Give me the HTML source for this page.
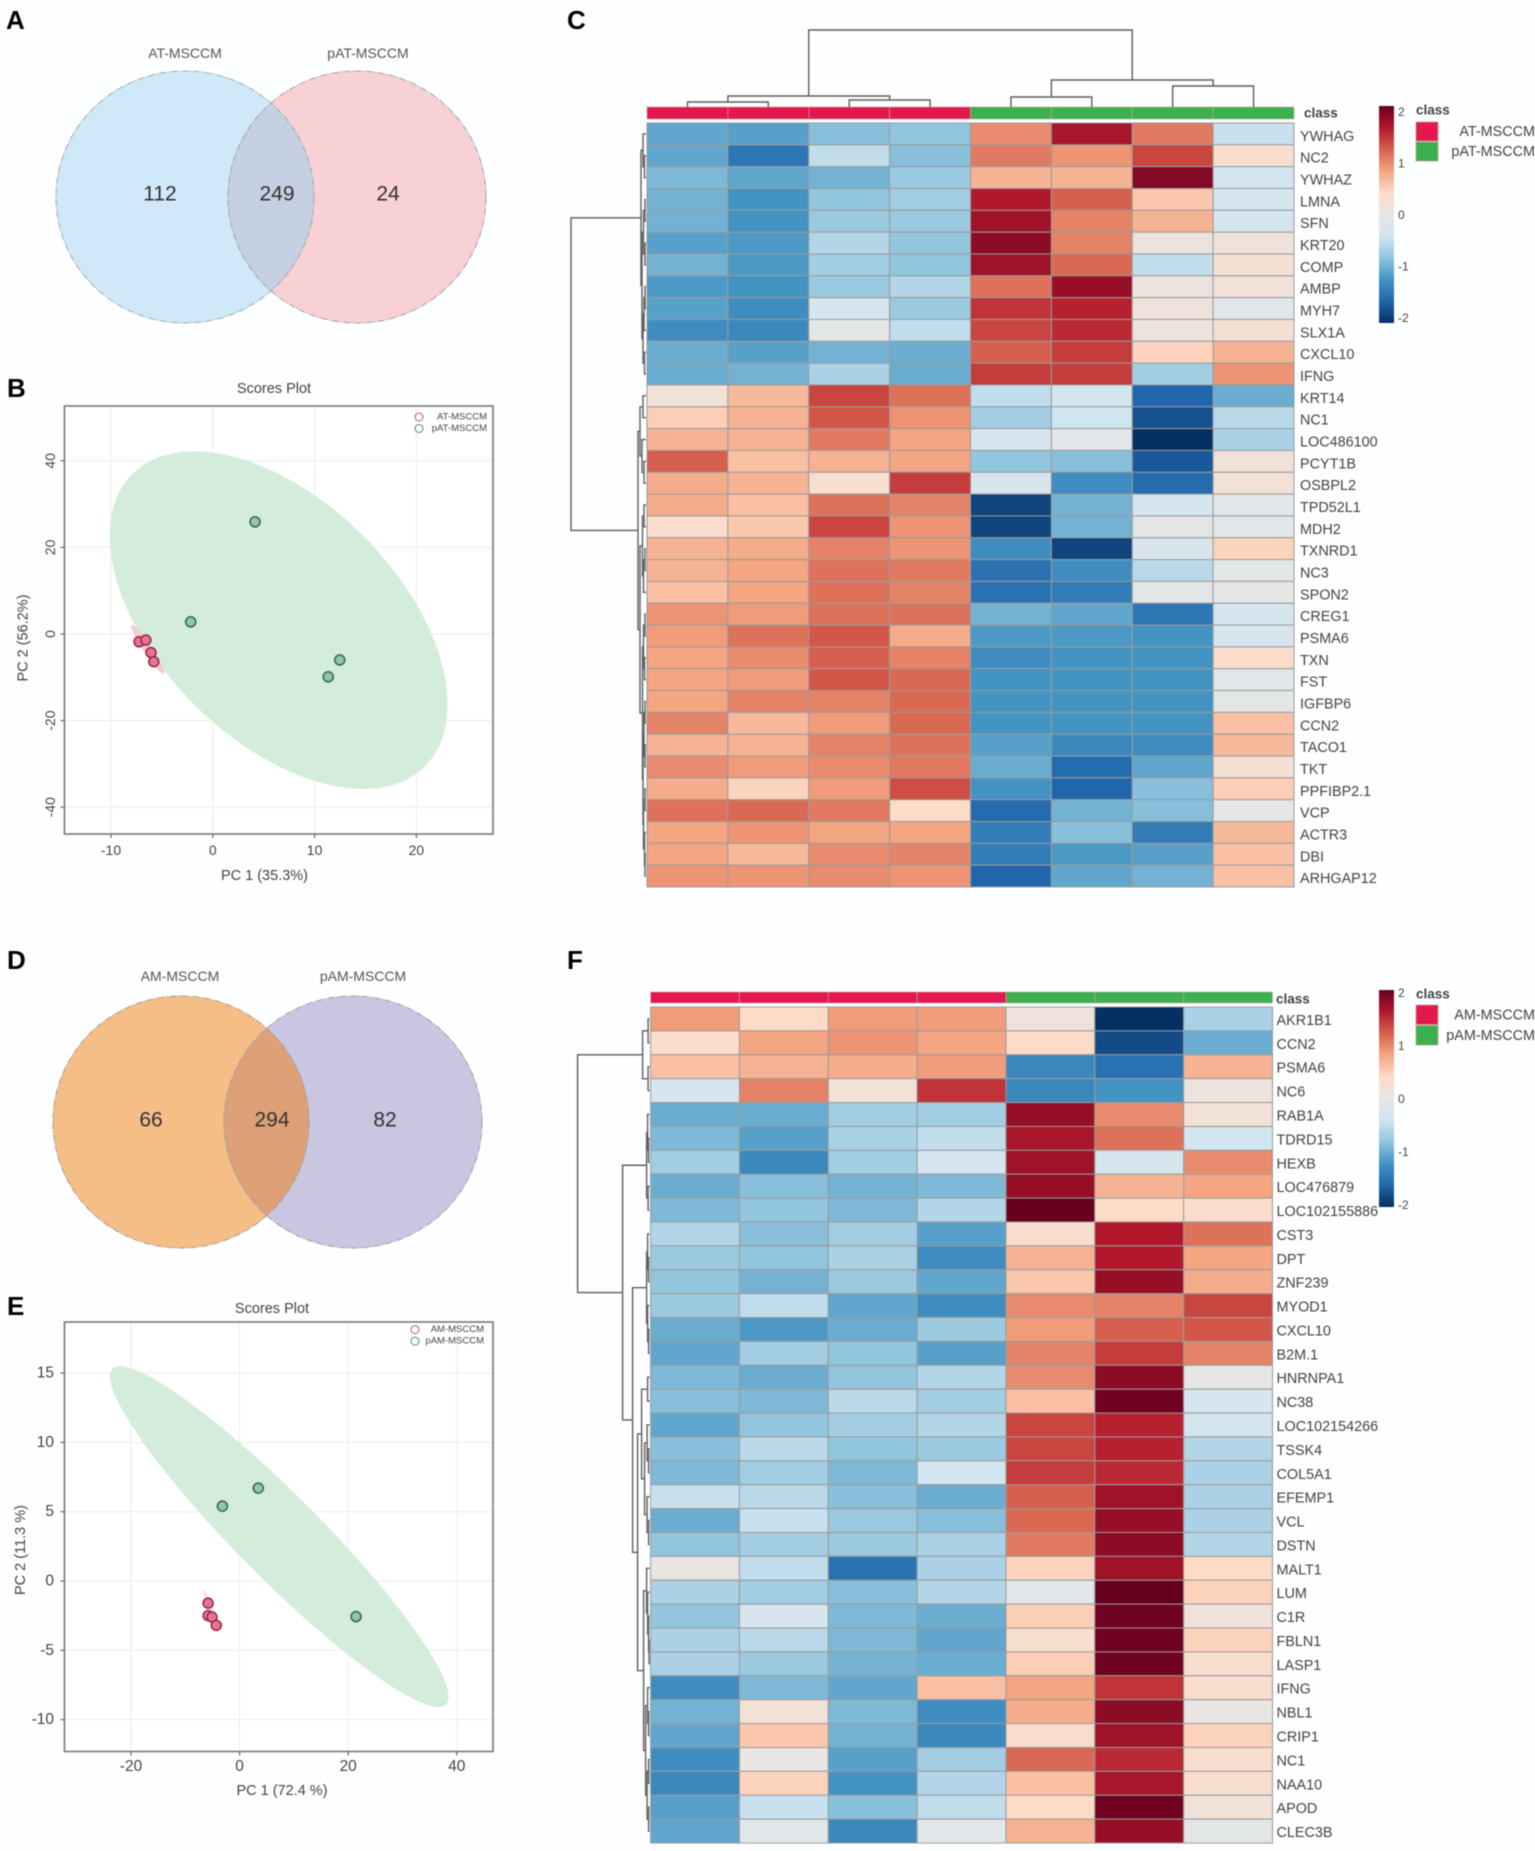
<!DOCTYPE html>
<html lang="en">
<head>
<meta charset="utf-8">
<title>Proteomic comparison of MSC conditioned media</title>
<style>
html,body{margin:0;padding:0;background:#fcfeff;}
#figure{display:block;width:1535px;height:1851px;filter:blur(0.6px);font-family:"Liberation Sans",sans-serif;}
text{font-family:"Liberation Sans",sans-serif;fill:#444;dominant-baseline:central;}
.panel{font-size:26px;font-weight:bold;fill:#000;}
.vn{font-size:21px;fill:#333;text-anchor:middle;}
.vt{font-size:14px;fill:#555;text-anchor:middle;}
</style>
</head>
<body>
<svg id="figure" xmlns="http://www.w3.org/2000/svg" width="1535" height="1851" viewBox="0 0 1535 1851">
<defs>
<clipPath id="clip-a"><ellipse cx="185" cy="197" rx="129" ry="126"/></clipPath>
<clipPath id="clip-d"><ellipse cx="181" cy="1122" rx="128" ry="126"/></clipPath>
</defs>
<rect width="1535" height="1851" fill="#fcfeff"/>
<text class="panel" x="6" y="20">A</text>
<text class="panel" x="7" y="388">B</text>
<text class="panel" x="567" y="20">C</text>
<text class="panel" x="7" y="960">D</text>
<text class="panel" x="7" y="1306">E</text>
<text class="panel" x="567" y="960">F</text>

<g>
<text class="vt" x="185" y="53">AT-MSCCM</text>
<text class="vt" x="368" y="53">pAT-MSCCM</text>
<ellipse cx="185" cy="197" rx="129" ry="126" fill="#cfe9f8"/>
<ellipse cx="357" cy="197" rx="129" ry="126" fill="#f8d1d4"/>
<ellipse cx="357" cy="197" rx="129" ry="126" fill="#c5d1e2" clip-path="url(#clip-a)"/>
<ellipse cx="185" cy="197" rx="129" ry="126" fill="none" stroke="#a0a8ad" stroke-width="1" stroke-dasharray="7 1.5 1.5 1.5"/>
<ellipse cx="357" cy="197" rx="129" ry="126" fill="none" stroke="#a0a0a4" stroke-width="1" stroke-dasharray="7 1.5 1.5 1.5"/>
<text class="vn" x="160" y="194">112</text>
<text class="vn" x="277" y="194">249</text>
<text class="vn" x="388" y="194">24</text>
</g>

<g>
<text class="vt" x="180" y="976">AM-MSCCM</text>
<text class="vt" x="363" y="976">pAM-MSCCM</text>
<ellipse cx="181" cy="1122" rx="128" ry="126" fill="#f5be87"/>
<ellipse cx="353" cy="1122" rx="129" ry="126" fill="#c9c6e2"/>
<ellipse cx="353" cy="1122" rx="129" ry="126" fill="#dda077" clip-path="url(#clip-d)"/>
<ellipse cx="181" cy="1122" rx="128" ry="126" fill="none" stroke="#a89b8e" stroke-width="1" stroke-dasharray="7 1.5 1.5 1.5"/>
<ellipse cx="353" cy="1122" rx="129" ry="126" fill="none" stroke="#a0a0a4" stroke-width="1" stroke-dasharray="7 1.5 1.5 1.5"/>
<text class="vn" x="151" y="1120">66</text>
<text class="vn" x="272" y="1120">294</text>
<text class="vn" x="385" y="1120">82</text>
</g>
</svg>

<script>
/* ---------- Scatter data: panel B ---------- */
const bGroups = ['AT-MSCCM', 'pAT-MSCCM'];
const bRedPc1 = [-7.25, -6.57, -6.07, -5.8];
const bRedPc2 = [-1.8, -1.4, -4.3, -6.4];
const bGreenPc1 = [4.15, -2.17, 12.47, 11.34];
const bGreenPc2 = [25.9, 2.8, -6, -9.9];
const bRedEllipse = [-6.4, -3.5, 1.62, 5.66, -0.95];
const bGreenEllipse = [6.47, 3.2, 16.6, 39, -0.5];
const bXTicks = [-10, 0, 10, 20];
const bYTicks = [40, 20, 0, -20, -40];

/* ---------- Scatter data: panel E ---------- */
const eGroups = ['AM-MSCCM', 'pAM-MSCCM'];
const eRedPc1 = [-5.8, -5.8, -5.08, -4.3];
const eRedPc2 = [-1.6, -2.5, -2.6, -3.2];
const eGreenPc1 = [3.44, -3.17, 21.45];
const eGreenPc2 = [6.7, 5.4, -2.57];
const eRedEllipse = [-5.2, -2.1, 1.5, 1.45, -0.9];
const eGreenEllipse = [7.3, 3.2, 31.2, 12.3, -0.94];
const eXTicks = [-20, 0, 20, 40];
const eYTicks = [15, 10, 5, 0, -5, -10];

/* ---------- Heatmap data: panel C ---------- */
const cClasses = ['AT-MSCCM','AT-MSCCM','AT-MSCCM','AT-MSCCM','pAT-MSCCM','pAT-MSCCM','pAT-MSCCM','pAT-MSCCM'];
const cGenes = ['YWHAG','NC2','YWHAZ','LMNA','SFN','KRT20','COMP','AMBP','MYH7','SLX1A','CXCL10','IFNG','KRT14','NC1','LOC486100','PCYT1B','OSBPL2','TPD52L1','MDH2','TXNRD1','NC3','SPON2','CREG1','PSMA6','TXN','FST','IGFBP6','CCN2','TACO1','TKT','PPFIBP2.1','VCP','ACTR3','DBI','ARHGAP12'];
const cValues = [
[-1.05,-1.1,-0.85,-0.8,0.95,1.65,1.05,-0.45],
[-1.05,-1.45,-0.5,-0.85,1.05,0.9,1.35,0.3],
[-0.9,-1.05,-0.95,-0.75,0.7,0.7,1.85,-0.35],
[-0.95,-1.2,-0.8,-0.7,1.6,1.2,0.55,-0.3],
[-0.95,-1.2,-0.75,-0.75,1.7,1.0,0.7,-0.35],
[-1.1,-1.15,-0.6,-0.8,1.8,1.0,0.1,0.15],
[-0.95,-1.15,-0.7,-0.8,1.7,1.15,-0.5,0.25],
[-1.15,-1.2,-0.75,-0.6,1.1,1.75,0.1,0.2],
[-1.1,-1.25,-0.3,-0.75,1.45,1.55,0.15,-0.1],
[-1.25,-1.3,-0.05,-0.5,1.35,1.5,0.1,0.25],
[-1,-1.1,-0.95,-1,1.2,1.4,0.45,0.7],
[-1,-0.95,-0.65,-1,1.4,1.4,-0.7,0.9],
[0.2,0.65,1.35,1.1,-0.5,-0.35,-1.6,-1],
[0.5,0.7,1.25,0.9,-0.7,-0.4,-1.75,-0.55],
[0.7,0.7,1.05,0.8,-0.3,-0.1,-2,-0.65],
[1.2,0.6,0.7,0.8,-0.8,-0.85,-1.7,0.2],
[0.75,0.7,0.3,1.4,-0.25,-1.25,-1.55,0.2],
[0.75,0.6,1.1,1,-1.85,-0.95,-0.3,-0.1],
[0.35,0.55,1.35,0.9,-1.85,-0.95,-0.05,-0.1],
[0.7,0.75,1,0.9,-1.25,-1.85,-0.25,0.45],
[0.7,0.8,1.1,1.05,-1.5,-1.25,-0.55,-0.05],
[0.6,0.8,1.1,1,-1.5,-1.4,-0.05,0],
[0.9,0.85,1.1,1.1,-0.95,-1.05,-1.45,-0.3],
[0.85,1.1,1.25,0.75,-1.15,-1.15,-1.2,-0.3],
[0.8,0.95,1.2,1,-1.25,-1.2,-1.2,0.35],
[0.8,0.85,1.25,1.15,-1.2,-1.2,-1.2,-0.1],
[0.8,1,1,1.15,-1.2,-1.2,-1.2,-0.05],
[1,0.65,0.85,1.15,-1.2,-1.2,-1.2,0.6],
[0.7,0.7,1,1.1,-1.1,-1.3,-1.25,0.65],
[0.95,0.85,0.95,1.05,-1.0,-1.55,-1.05,0.25],
[0.75,0.45,0.85,1.3,-1.2,-1.6,-0.85,0.5],
[1.1,1.15,1.05,0.4,-1.55,-0.95,-0.85,0],
[0.8,0.9,0.8,0.8,-1.4,-0.85,-1.4,0.65],
[0.8,0.65,0.95,1,-1.4,-1.15,-1.1,0.6],
[0.9,0.9,0.95,0.9,-1.6,-1.05,-0.95,0.6]
];
/* dendrograms: [merge height, left, right]; a bare number is a leaf index */
const cColTree = [77,[11,[5,0,1],[7,2,3]],[27,[10,4,5],[21,6,7]]];
const cRowTree = [75,
 [5,[3,0,[1.5,1,2]],[4,[2.5,[1,3,4],[1,5,6]],[3,[2,[1,7,8],9],[1.5,10,11]]]],
 [8,
  [6,[3,12,13],[4,14,[2,15,16]]],
  [6,
   [3.5,[2,17,18],[2.5,[1,19,20],21]],
   [3.5,
    [2.5,[1,22,23],[1.5,24,25]],
    [3,[2,[1,26,27],[1,28,29]],[2.5,[1,30,31],[1.5,32,[1,33,34]]]]
   ]
  ]
 ]
];
const cLegendTicks = [2,1,0,-1,-2];

/* ---------- Heatmap data: panel F ---------- */
const fClasses = ['AM-MSCCM','AM-MSCCM','AM-MSCCM','AM-MSCCM','pAM-MSCCM','pAM-MSCCM','pAM-MSCCM'];
const fGenes = ['AKR1B1','CCN2','PSMA6','NC6','RAB1A','TDRD15','HEXB','LOC476879','LOC102155886','CST3','DPT','ZNF239','MYOD1','CXCL10','B2M.1','HNRNPA1','NC38','LOC102154266','TSSK4','COL5A1','EFEMP1','VCL','DSTN','MALT1','LUM','C1R','FBLN1','LASP1','IFNG','NBL1','CRIP1','NC1','NAA10','APOD','CLEC3B'];
const fValues = [
[0.85,0.4,0.85,0.85,0.15,-2,-0.65],
[0.35,0.8,0.9,0.8,0.4,-1.8,-1],
[0.6,0.7,0.75,0.85,-1.3,-1.5,0.7],
[-0.3,1,0.2,1.45,-1.3,-1.2,0.1],
[-1,-1,-0.7,-0.7,1.75,0.95,0.2],
[-0.9,-1.1,-0.65,-0.5,1.65,1.1,-0.4],
[-0.7,-1.3,-0.7,-0.35,1.7,-0.3,0.95],
[-1,-0.85,-0.95,-0.9,1.75,0.7,0.8],
[-0.9,-0.8,-0.9,-0.6,2,0.4,0.35],
[-0.6,-0.85,-0.7,-1.1,0.3,1.6,1.1],
[-0.75,-0.8,-0.65,-1.25,0.7,1.6,0.8],
[-0.8,-0.95,-0.75,-1.05,0.55,1.75,0.75],
[-0.75,-0.5,-1.05,-1.25,0.95,1,1.35],
[-1,-1.15,-1,-0.75,0.85,1.2,1.25],
[-1.05,-0.7,-0.8,-1.1,1,1.4,1],
[-0.9,-1,-0.8,-0.6,0.95,1.8,0],
[-0.85,-0.9,-0.55,-0.7,0.6,1.95,-0.3],
[-1.05,-0.8,-0.7,-0.6,1.35,1.55,-0.35],
[-0.85,-0.55,-0.8,-0.75,1.35,1.55,-0.6],
[-0.9,-0.7,-0.9,-0.4,1.4,1.5,-0.65],
[-0.45,-0.55,-0.85,-1,1.2,1.7,-0.65],
[-1,-0.45,-0.75,-0.85,1.15,1.75,-0.65],
[-0.8,-0.7,-0.75,-0.65,1.05,1.8,-0.6],
[0.05,-0.5,-1.5,-0.65,0.45,1.7,0.4],
[-0.65,-0.7,-0.85,-0.6,-0.1,2,0.45],
[-0.8,-0.3,-0.9,-1,0.5,1.95,0.15],
[-0.65,-0.55,-0.9,-1.05,0.3,1.95,0.45],
[-0.65,-0.75,-0.95,-1,0.5,1.95,0.3],
[-1.25,-0.9,-1.05,0.6,0.8,1.45,0.3],
[-0.95,0.2,-0.9,-1.25,0.75,1.8,0.05],
[-1.05,0.55,-0.95,-1.3,0.35,1.7,0.45],
[-1.25,0.05,-1.1,-0.7,1.15,1.5,0.3],
[-1.3,0.45,-1.2,-0.6,0.6,1.65,0.3],
[-1.1,-0.45,-0.85,-0.5,0.4,1.95,0.15],
[-1.05,-0.1,-1.3,-0.1,0.7,1.75,-0.05]
];
const fRowTree = [72,
 [7,[1.5,0,1],[1.5,2,3]],
 [27,
  [3,[2,4,[1,5,6]],[1.5,7,8]],
  [17,
   [3,[2,9,[1,10,11]],[2,12,[1,13,14]]],
   [12,
    [8,[2,15,16],[5,[2.5,17,[1,18,19]],[2.5,20,[1,21,22]]]],
    [6,[3,23,[2,24,[1,25,[0.5,26,27]]]],[4,[2,28,[1,29,30]],[2.5,[1,31,32],[1,33,34]]]]
   ]
  ]
 ]
];
const fLegendTicks = [2,1,0,-1,-2];

/* ---------- Shared colour ramp ---------- */
const rampValues = [-2,-1.6,-1.2,-0.8,-0.4,0,0.4,0.8,1.2,1.6,2];
const rampColors = ['#053061','#2166ac','#4393c3','#92c5de','#d1e5f0','#e6e6e6','#fddbc7','#f4a582','#d6604d','#b2182b','#67001f'];

const SVG_NS = 'http://www.w3.org/2000/svg';
const root = document.getElementById('figure');

function make(tag, attrs, parent, txt) {
  const node = document.createElementNS(SVG_NS, tag);
  for (const k in attrs) node.setAttribute(k, attrs[k]);
  if (txt !== undefined) node.textContent = txt;
  (parent || root).appendChild(node);
  return node;
}
function hexToRgb(h) {
  return [parseInt(h.slice(1,3),16), parseInt(h.slice(3,5),16), parseInt(h.slice(5,7),16)];
}
function colorFor(v) {
  const c = Math.max(-2, Math.min(2, v));
  let i = 0;
  while (i < rampValues.length - 2 && c > rampValues[i+1]) i++;
  const t = (c - rampValues[i]) / (rampValues[i+1] - rampValues[i]);
  const a = hexToRgb(rampColors[i]), b = hexToRgb(rampColors[i+1]);
  return 'rgb(' + a.map((x,j) => Math.round(x + (b[j]-x)*t)).join(',') + ')';
}

/* ---------- Dendrogram ---------- */
function drawTree(node, parent, prefix, leafPos, heightPos, vertical) {
  if (typeof node === 'number') return { p: leafPos(node), h: 0 };
  const a = drawTree(node[1], parent, prefix, leafPos, heightPos, vertical);
  const b = drawTree(node[2], parent, prefix, leafPos, heightPos, vertical);
  const hn = heightPos(node[0]), ha = heightPos(a.h), hb = heightPos(b.h);
  const d = vertical
    ? `M${a.p} ${ha}V${hn}H${b.p}V${hb}`
    : `M${ha} ${a.p}H${hn}V${b.p}H${hb}`;
  const link = make('path', { d: d, fill: 'none', stroke: '#5e5e5e', 'stroke-width': 1.4 }, parent);
  
  
  return { p: (a.p + b.p) / 2, h: node[0] };
}

/* ---------- Heatmap ---------- */
function drawHeatmap(cfg) {
  const g = make('g', {});
  
  
  const cols = cfg.classes.length, rows = cfg.genes.length;
  const cw = (cfg.x1 - cfg.x0) / cols, rh = (cfg.y1 - cfg.y0) / rows;
  const xOf = i => cfg.x0 + cw * i;
  const yOf = i => cfg.y0 + rh * i;

  cfg.classes.forEach((cls, i) => {
    const bar = make('rect', { x: xOf(i), y: cfg.barTop, width: cw, height: cfg.barBottom - cfg.barTop,
      fill: cls === cfg.classes[0] ? '#e5174f' : '#3cb04e', stroke: '#c9a9a0', 'stroke-width': 0.6 }, g);
    
    
  });
  const classLabel = make('text', { x: cfg.x1 + cfg.classGap, y: cfg.classY, 'font-size': 13.5, 'font-weight': 'bold', fill: '#333' }, g, 'class');
  
  

  cfg.values.forEach((row, r) => {
    row.forEach((v, c) => {
      const cell = make('rect', { x: xOf(c), y: yOf(r), width: cw, height: rh, fill: colorFor(v), stroke: '#9b9b9b', 'stroke-width': 1 }, g);
      
      
    });
    const lab = make('text', { x: cfg.x1 + cfg.labelGap, y: yOf(r) + rh / 2 + cfg.labelDrop, 'font-size': 14.4, fill: '#444' }, g, cfg.genes[r]);
    
    
  });

  drawTree(cfg.rowTree, g, cfg.id + '-row', i => yOf(i + 0.5), h => cfg.x0 - 1 - h, false);
  if (cfg.colTree) {
    drawTree(cfg.colTree, g, cfg.id + '-col', i => xOf(i + 0.5), h => cfg.barTop - h, true);
  }

  /* colour legend */
  const gradId = cfg.id + '-gradient';
  const grad = make('linearGradient', { id: gradId, x1: 0, y1: 1, x2: 0, y2: 0 }, g);
  rampValues.forEach((v, i) => {
    make('stop', { offset: (v + 2) / 4, 'stop-color': rampColors[i] }, grad);
  });
  const cbar = make('rect', { x: 1379, y: cfg.legTop, width: 15, height: cfg.legBottom - cfg.legTop, fill: `url(#${gradId})` }, g);
  
  
  cfg.legendTicks.forEach(t => {
    const y = cfg.legTickZero - t * cfg.legTickStep;
    const tick = make('text', { x: 1398, y: y, 'font-size': 12, fill: '#444' }, g, String(t));
    
    
  });
  const title = make('text', { x: 1416, y: cfg.legTop + 4, 'font-size': 13.5, 'font-weight': 'bold', fill: '#333' }, g, 'class');
  
  
  const names = [cfg.classes[0], cfg.classes[cfg.classes.length - 1]];
  const fills = ['#e5174f', '#3cb04e'];
  names.forEach((nm, i) => {
    const top = cfg.swatchTop + i * cfg.swatchStep;
    const sw = make('rect', { x: 1416, y: top, width: 22, height: cfg.swatchStep - 1, fill: fills[i], stroke: '#b9a58f', 'stroke-width': 0.8 }, g);
    
    
    const tx = make('text', { x: 1535, y: top + cfg.swatchStep / 2, 'font-size': 14.4, 'text-anchor': 'end', fill: '#444' }, g, nm);
    
    
  });
}

/* ---------- Scatter ---------- */
function ellipsePath(e, sx, sy) {
  const s = Math.sqrt(1 - e[4] * e[4]);
  let d = '';
  for (let k = 0; k < 120; k++) {
    const t = k / 120 * 2 * Math.PI;
    const px = e[0] + e[2] * Math.cos(t);
    const py = e[1] + e[3] * (e[4] * Math.cos(t) + s * Math.sin(t));
    d += (k ? 'L' : 'M') + sx(px).toFixed(1) + ' ' + sy(py).toFixed(1);
  }
  return d + 'Z';
}
function drawScatter(cfg) {
  const g = make('g', {});
  
  
  const sx = v => cfg.x0 + v * cfg.xScale;
  const sy = v => cfg.y0 - v * cfg.yScale;

  const frame = make('rect', { x: cfg.left, y: cfg.top, width: cfg.right - cfg.left, height: cfg.bottom - cfg.top, fill: '#fff' }, g);
  
  

  cfg.xTicks.forEach(t => {
    const gl = make('line', { x1: sx(t), x2: sx(t), y1: cfg.top, y2: cfg.bottom, stroke: '#ececec', 'stroke-width': 1 }, g);
    
    
    const tk = make('line', { x1: sx(t), x2: sx(t), y1: cfg.bottom, y2: cfg.bottom + 4, stroke: '#666', 'stroke-width': 1.2 }, g);
    
    
    const lb = make('text', { x: sx(t), y: cfg.bottom + cfg.xLabelGap, 'font-size': cfg.tickFont, 'text-anchor': 'middle', fill: '#555' }, g, String(t));
    
    
  });
  cfg.yTicks.forEach(t => {
    const gl = make('line', { x1: cfg.left, x2: cfg.right, y1: sy(t), y2: sy(t), stroke: '#ececec', 'stroke-width': 1 }, g);
    
    
    const tk = make('line', { x1: cfg.left - 4, x2: cfg.left, y1: sy(t), y2: sy(t), stroke: '#666', 'stroke-width': 1.2 }, g);
    
    
    const attrs = cfg.rotateY
      ? { x: cfg.yLabelX, y: sy(t), 'font-size': cfg.tickFont, 'text-anchor': 'middle', fill: '#555', transform: `rotate(-90 ${cfg.yLabelX} ${sy(t)})` }
      : { x: cfg.yLabelX, y: sy(t), 'font-size': cfg.tickFont, 'text-anchor': 'end', fill: '#555' };
    const lb = make('text', attrs, g, String(t));
    
    
  });

  const eg = make('path', { d: ellipsePath(cfg.greenEllipse, sx, sy), fill: '#d4edda' }, g);
  
  
  const er = make('path', { d: ellipsePath(cfg.redEllipse, sx, sy), fill: cfg.redEllipseFill }, g);
  
  

  cfg.greenX.forEach((v, i) => {
    const c = make('circle', { cx: sx(v), cy: sy(cfg.greenY[i]), r: 5, fill: '#92c8a3', stroke: '#3a7552', 'stroke-width': 1.7 }, g);
    
    
  });
  cfg.redX.forEach((v, i) => {
    const c = make('circle', { cx: sx(v), cy: sy(cfg.redY[i]), r: 5, fill: '#ea7294', stroke: '#8f2a47', 'stroke-width': 1.5 }, g);
    
    
  });

  const box = make('rect', { x: cfg.left, y: cfg.top, width: cfg.right - cfg.left, height: cfg.bottom - cfg.top, fill: 'none', stroke: '#777', 'stroke-width': 1.6 }, g);
  
  

  const title = make('text', { x: cfg.titleX, y: cfg.titleY, 'font-size': 14.5, 'text-anchor': 'middle', fill: '#555' }, g, 'Scores Plot');
  
  
  const xt = make('text', { x: cfg.xTitleX, y: cfg.xTitleY, 'font-size': 14.5, 'text-anchor': 'middle', fill: '#555' }, g, cfg.xTitle);
  
  
  const yt = make('text', { x: cfg.yTitleX, y: cfg.yTitleY, 'font-size': 14.5, 'text-anchor': 'middle', fill: '#555', transform: `rotate(-90 ${cfg.yTitleX} ${cfg.yTitleY})` }, g, cfg.yTitle);
  
  

  cfg.groups.forEach((nm, i) => {
    const y = cfg.legendY + i * 11.5;
    const m = make('circle', { cx: cfg.legendMarkerX, cy: y, r: 4, fill: 'none', stroke: i ? '#4f9068' : '#c2566f', 'stroke-width': 1 }, g);
    
    
    const t = make('text', { x: cfg.legendTextX, y: y, 'font-size': 9.5, 'text-anchor': 'end', fill: '#555' }, g, nm);
    
    
  });
}

drawScatter({ id:'b', groups:bGroups, left:64.5, right:493, top:406, bottom:834,
  x0:212.8, xScale:10.18, y0:634, yScale:4.33,
  xTicks:bXTicks, yTicks:bYTicks, rotateY:true, yLabelX:50, xLabelGap:16, tickFont:14,
  redX:bRedPc1, redY:bRedPc2, greenX:bGreenPc1, greenY:bGreenPc2,
  redEllipse:bRedEllipse, greenEllipse:bGreenEllipse, redEllipseFill:'#f5c8d2',
  titleX:274, titleY:389, xTitle:'PC 1 (35.3%)', xTitleX:264.5, xTitleY:876,
  yTitle:'PC 2 (56.2%)', yTitleX:23.5, yTitleY:638,
  legendY:417, legendMarkerX:419, legendTextX:487 });

drawScatter({ id:'e', groups:eGroups, left:64.5, right:493, top:1322, bottom:1751.5,
  x0:239.6, xScale:5.43, y0:1581, yScale:13.86,
  xTicks:eXTicks, yTicks:eYTicks, rotateY:false, yLabelX:54, xLabelGap:15, tickFont:15.5,
  redX:eRedPc1, redY:eRedPc2, greenX:eGreenPc1, greenY:eGreenPc2,
  redEllipse:eRedEllipse, greenEllipse:eGreenEllipse, redEllipseFill:'#f8e6ea',
  titleX:272, titleY:1309, xTitle:'PC 1 (72.4 %)', xTitleX:282, xTitleY:1791,
  yTitle:'PC 2 (11.3 %)', yTitleX:21, yTitleY:1550,
  legendY:1329.6, legendMarkerX:415, legendTextX:484 });

drawHeatmap({ id:'c', classes:cClasses, genes:cGenes, values:cValues, rowTree:cRowTree, colTree:cColTree,
  x0:647, x1:1294, y0:123, y1:887, barTop:107, barBottom:119, classY:113,
  classGap:10, labelGap:6, labelDrop:3,
  legendTicks:cLegendTicks, legTop:106, legBottom:323, legTickZero:215, legTickStep:51.5,
  swatchTop:122, swatchStep:20 });

drawHeatmap({ id:'f', classes:fClasses, genes:fGenes, values:fValues, rowTree:fRowTree, colTree:null,
  x0:650.6, x1:1272.5, y0:1007, y1:1843, barTop:992, barBottom:1003, classY:999,
  classGap:3.5, labelGap:4, labelDrop:2,
  legendTicks:fLegendTicks, legTop:990, legBottom:1207, legTickZero:1099, legTickStep:53,
  swatchTop:1005, swatchStep:20.5 });
</script>
</body>
</html>
